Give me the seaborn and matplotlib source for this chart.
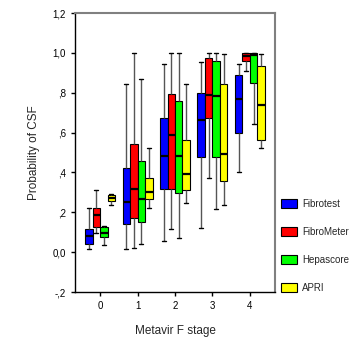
import pandas as pd
import matplotlib.pyplot as plt
import seaborn as sns
from matplotlib.patches import Patch

# five-number summaries: [low, q1, median, q3, high]
stages = ['0', '1', '2', '3', '4']
tests = ['Fibrotest', 'FibroMeter', 'Hepascore', 'APRI']
colors = ['#0000FF', '#FF0000', '#00FF00', '#FFFF00']

fibrotest = [[0.018, 0.042, 0.080, 0.117, 0.223],
             [0.015, 0.139, 0.253, 0.420, 0.846],
             [0.055, 0.318, 0.484, 0.672, 0.946],
             [0.122, 0.476, 0.662, 0.800, 0.956],
             [0.400, 0.600, 0.766, 0.888, 0.945]]
fibrometer = [[0.095, 0.124, 0.187, 0.219, 0.313],
              [0.022, 0.172, 0.318, 0.541, 1.000],
              [0.114, 0.318, 0.588, 0.792, 1.000],
              [0.373, 0.672, 0.789, 0.976, 0.998],
              [0.908, 0.961, 0.985, 0.999, 1.000]]
hepascore = [[0.034, 0.075, 0.095, 0.126, 0.130],
             [0.039, 0.152, 0.268, 0.456, 0.871],
             [0.072, 0.295, 0.484, 0.759, 1.000],
             [0.216, 0.476, 0.784, 0.960, 1.000],
             [0.643, 0.851, 0.990, 0.998, 1.000]]
apri = [[0.236, 0.258, 0.270, 0.285, 0.290],
        [0.219, 0.266, 0.303, 0.370, 0.523],
        [0.248, 0.312, 0.390, 0.563, 0.844],
        [0.235, 0.358, 0.494, 0.843, 0.993],
        [0.524, 0.561, 0.737, 0.935, 0.993]]

ytick_vals = [-0.2, 0.0, 0.2, 0.4, 0.6, 0.8, 1.0, 1.2]
ytick_labels = ['-,2', '0,0', ',2', ',4', ',6', ',8', '1,0', '1,2']

rows = []
for test, summ in zip(tests, [fibrotest, fibrometer, hepascore, apri]):
    for stage, vals in zip(stages, summ):
        for v in vals:
            rows.append({'stage': stage, 'test': test, 'prob': v})
df = pd.DataFrame(rows)

sns.set_style("ticks")
plt.rcParams['font.family'] = ['Liberation Sans', 'DejaVu Sans']

fig = plt.figure(figsize=(3.52, 3.39), dpi=100)
ax = fig.add_axes([75/352, 1 - 292/339, 200/352, 279/339])

sns.boxplot(data=df, x='stage', y='prob', hue='test', order=stages,
            hue_order=tests, palette=colors, saturation=1, width=0.8,
            whis=(0, 100), linecolor='black', linewidth=0.8, legend=False,
            whiskerprops={'color': '#555555', 'linewidth': 1},
            capprops={'color': 'black', 'linewidth': 1},
            medianprops={'color': 'black', 'linewidth': 1.6}, ax=ax)

ax.set_xlim(-0.667, 4.667)
ax.set_ylim(-0.2, 1.2)
ax.set_yticks(ytick_vals)
ax.set_yticklabels(ytick_labels)
ax.tick_params(direction='out', length=3, width=1, labelsize=7, colors='black')
ax.set_xlabel('Metavir F stage', fontsize=8.5, labelpad=10)
ax.set_ylabel('Probability of CSF', fontsize=8.5, labelpad=9)

for s in ['top', 'right']:
    ax.spines[s].set_color('#808080')
    ax.spines[s].set_linewidth(1.5)
for s in ['left', 'bottom']:
    ax.spines[s].set_color('black')
    ax.spines[s].set_linewidth(1)

handles = [Patch(facecolor=c, edgecolor='black', linewidth=0.8) for c in colors]
ax.legend(handles, tests, loc='upper left', bbox_to_anchor=(281/352, 1 - 199/339),
          bbox_transform=fig.transFigure, frameon=False, fontsize=7,
          handlelength=1.65, handleheight=1.1, labelspacing=1.85,
          handletextpad=0.5, borderpad=0, borderaxespad=0)

fig.savefig('out.png', dpi=100)
